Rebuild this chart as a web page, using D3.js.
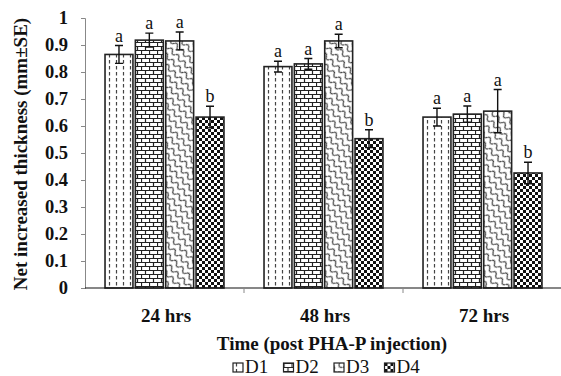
<!DOCTYPE html>
<html>
<head>
<meta charset="utf-8">
<script src="https://cdn.jsdelivr.net/npm/d3@7"></script>
<style>
  body { margin: 0; background: #fff; }
  svg text { font-family: "Liberation Serif", "DejaVu Serif", serif !important; fill: #111; }
</style>
</head>
<body>
<svg width="561" height="376"></svg>
<script>
// data
var times = ["24 hrs", "48 hrs", "72 hrs"];
var doses = ["D1", "D2", "D3", "D4"];
var means = {
  D1: [0.865, 0.82, 0.633],
  D2: [0.918, 0.83, 0.644],
  D3: [0.915, 0.915, 0.655],
  D4: [0.633, 0.553, 0.426]
};
var errs = {
  D1: [0.033, 0.02, 0.033],
  D2: [0.026, 0.02, 0.03],
  D3: [0.033, 0.025, 0.08],
  D4: [0.04, 0.033, 0.04]
};
var letters = {
  D1: ["a", "a", "a"],
  D2: ["a", "a", "a"],
  D3: ["a", "a", "a"],
  D4: ["b", "b", "b"]
};
var yTicks = [0, 0.1, 0.2, 0.3, 0.4, 0.5, 0.6, 0.7, 0.8, 0.9, 1];

var serif = "'Liberation Serif', 'DejaVu Serif', serif";

var svg = d3.select("svg"),
  margin = { top: 18, right: -1, bottom: 88, left: 85 },
  width = 561 - margin.left - margin.right,
  height = 376 - margin.top - margin.bottom;

var g = svg.append("g")
  .attr("transform", "translate(" + margin.left + "," + margin.top + ")");

// hatch patterns, Excel style
var defs = svg.append("defs");

var p1 = defs.append("pattern").attr("id", "pD1")
  .attr("patternUnits", "userSpaceOnUse").attr("width", 7).attr("height", 6);
p1.append("rect").attr("width", 7).attr("height", 6).attr("fill", "#fff");
p1.append("line").attr("x1", 3.5).attr("x2", 3.5).attr("y1", 0).attr("y2", 3.5)
  .attr("stroke", "#444").attr("stroke-width", 1.2);

var p2 = defs.append("pattern").attr("id", "pD2")
  .attr("patternUnits", "userSpaceOnUse").attr("width", 8).attr("height", 8);
p2.append("rect").attr("width", 8).attr("height", 8).attr("fill", "#fff");
p2.append("path")
  .attr("d", "M0,0.5H8M0,4.5H8M0.5,0.5V4.5M4.5,4.5V8")
  .attr("stroke", "#222").attr("stroke-width", 1.2).attr("fill", "none");

var p3 = defs.append("pattern").attr("id", "pD3")
  .attr("patternUnits", "userSpaceOnUse").attr("width", 9).attr("height", 7)
  .attr("patternTransform", "rotate(45)");
p3.append("rect").attr("width", 9).attr("height", 7).attr("fill", "#fff");
p3.append("path")
  .attr("d", "M0,4 Q2.25,0 4.5,4 T9,4")
  .attr("stroke", "#333").attr("stroke-width", 1.2).attr("fill", "none");

var p4 = defs.append("pattern").attr("id", "pD4")
  .attr("patternUnits", "userSpaceOnUse").attr("width", 6).attr("height", 6);
p4.append("rect").attr("width", 6).attr("height", 6).attr("fill", "#fff");
p4.append("rect").attr("width", 3).attr("height", 3).attr("fill", "#111");
p4.append("rect").attr("x", 3).attr("y", 3).attr("width", 3).attr("height", 3).attr("fill", "#111");

// scales
var x0 = d3.scaleBand().domain(times).range([0, width]);
var x1 = d3.scaleBand().domain(doses).range([0, x0.bandwidth()])
  .paddingInner(0.08).paddingOuter(0.66);
var y = d3.scaleLinear().domain([0, 1]).range([height, 0]);

// axes
g.append("g")
  .attr("class", "axis axisy")
  .call(d3.axisLeft(y).tickValues(yTicks).tickSizeOuter(0).tickSize(4).tickPadding(13)
    .tickFormat(function(d) { return d === 0 || d === 1 ? d : d3.format(".1f")(d); }))
  .call(function(a) {
    a.attr("font-family", serif);
    a.select(".domain").attr("stroke", "#888");
    a.selectAll(".tick line").attr("stroke", "#888");
    a.selectAll("text").attr("font-size", 18.5).attr("font-weight", "bold")
      .style("font-family", serif).attr("fill", "#111");
  });

var groups = g.selectAll(".grp")
  .data(times)
  .enter().append("g")
  .attr("class", "grp")
  .attr("transform", function(d) { return "translate(" + x0(d) + ",0)"; });

doses.forEach(function(k) {
  groups.append("rect")
    .attr("x", x1(k))
    .attr("y", function(d, i) { return y(means[k][i]); })
    .attr("width", x1.bandwidth())
    .attr("height", function(d, i) { return height - y(means[k][i]); })
    .attr("fill", "url(#p" + k + ")")
    .attr("stroke", "#222")
    .attr("stroke-width", 1.6);

  // error bars
  var cx = x1(k) + x1.bandwidth() / 2;
  groups.append("path")
    .attr("d", function(d, i) {
      var t = y(means[k][i] + errs[k][i]), b = y(means[k][i] - errs[k][i]);
      return "M" + (cx - 4) + "," + t + "H" + (cx + 4) +
        "M" + cx + "," + t + "V" + b +
        "M" + (cx - 4) + "," + b + "H" + (cx + 4);
    })
    .attr("stroke", "#111").attr("stroke-width", 1.4).attr("fill", "none");

  groups.append("text")
    .attr("x", cx)
    .attr("y", function(d, i) { return y(means[k][i] + errs[k][i]) - 4; })
    .attr("text-anchor", "middle")
    .attr("font-size", 18)
    .style("font-family", serif)
    .text(function(d, i) { return letters[k][i]; });
});

// x axis
var xAxis = g.append("g")
  .attr("transform", "translate(0," + height + ")");
xAxis.append("line").attr("x1", 0).attr("x2", width).attr("stroke", "#111").attr("stroke-width", 1.2);
xAxis.selectAll(".xt")
  .data(times.slice(1))
  .enter().append("line")
  .attr("x1", function(d) { return x0(d); })
  .attr("x2", function(d) { return x0(d); })
  .attr("y1", 0).attr("y2", 5)
  .attr("stroke", "#888");
xAxis.selectAll(".xl")
  .data(times)
  .enter().append("text")
  .attr("x", function(d) { return x0(d) + x0.bandwidth() / 2 + 1.5; })
  .attr("y", 34)
  .attr("text-anchor", "middle")
  .attr("font-size", 19)
  .attr("font-weight", "bold")
  .style("font-family", serif)
  .text(function(d) { return d; });

// axis titles
svg.append("text")
  .attr("x", 332).attr("y", 350)
  .attr("text-anchor", "middle")
  .attr("font-size", 19).attr("font-weight", "bold")
  .style("font-family", serif)
  .text("Time (post PHA-P injection)");

svg.append("text")
  .attr("transform", "translate(27,154) rotate(-90)")
  .attr("text-anchor", "middle")
  .attr("font-size", 19).attr("font-weight", "bold")
  .style("font-family", serif)
  .text("Net increased thickness (mm±SE)");

// legend
var legend = svg.selectAll(".lg")
  .data(doses)
  .enter().append("g")
  .attr("transform", function(d, i) { return "translate(" + (233 + i * 50.5) + ",363)"; });
legend.append("rect")
  .attr("width", 10).attr("height", 9)
  .attr("fill", function(d) { return "url(#p" + d + ")"; })
  .attr("stroke", "#222").attr("stroke-width", 1.2);
legend.append("text")
  .attr("x", 12).attr("y", 9.5)
  .attr("font-size", 19)
  .style("font-family", serif)
  .text(function(d) { return d; });
</script>
</body>
</html>
